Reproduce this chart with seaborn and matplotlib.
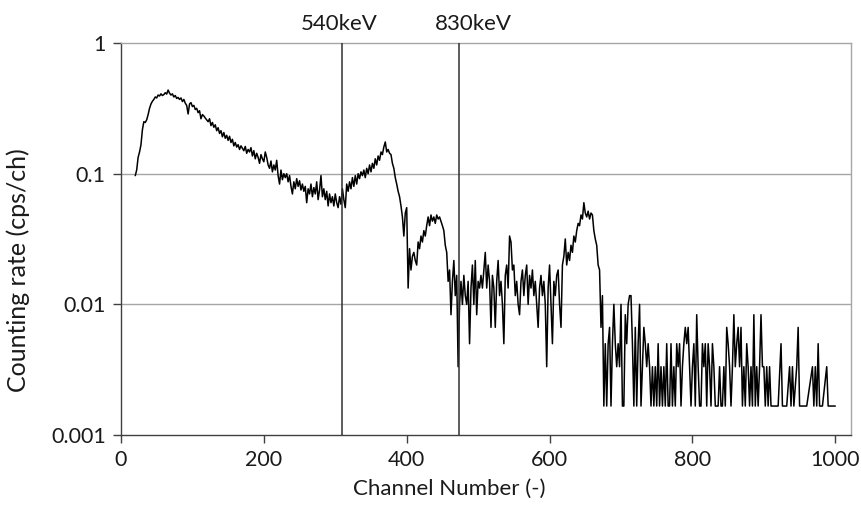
import numpy as np
import pandas as pd
import matplotlib
matplotlib.use("Agg")
import matplotlib.pyplot as plt
import seaborn as sns
from matplotlib.ticker import FixedLocator, FixedFormatter, NullLocator

# ---------------- data ----------------
channels = list(range(20, 1001, 2))

counts = [
    # 20-38
    58, 64, 80, 88, 100, 130, 150, 148, 155, 170,
    # 40-58
    190, 205, 215, 222, 232, 228, 240, 236, 245, 238,
    # 60-78
    242, 250, 244, 262, 248, 240, 245, 232, 238, 226,
    # 80-98
    230, 222, 228, 214, 222, 208, 200, 172, 205, 210,
    # 100-118
    196, 200, 186, 190, 176, 182, 158, 170, 166, 160,
    # 120-138
    155, 150, 158, 140, 148, 136, 142, 128, 135, 122,
    # 140-158
    128, 115, 124, 112, 118, 108, 116, 104, 110, 98,
    # 160-178
    104, 96, 100, 92, 98, 94, 90, 97, 86, 92,
    # 180-198
    88, 95, 82, 90, 78, 86, 80, 72, 84, 78,
    # 200-218
    74, 88, 80, 70, 66, 75, 62, 70, 64, 76,
    # 220-238
    58, 50, 64, 54, 60, 56, 60, 52, 58, 48,
    # 240-258
    42, 52, 46, 55, 48, 53, 45, 50, 44, 48,
    # 260-278
    36, 46, 42, 50, 40, 47, 42, 52, 38, 45,
    # 280-298
    58, 40, 46, 38, 44, 34, 42, 36, 40, 34,
    # 300-318
    42, 36, 33, 40, 35, 46, 38, 33, 50, 44,
    # 320-338
    52, 46, 56, 48, 58, 50, 60, 55, 62, 58,
    # 340-358
    64, 56, 66, 60, 70, 62, 72, 66, 78, 70,
    # 360-378
    82, 76, 88, 84, 96, 105, 88, 92, 86, 84,
    # 380-398
    72, 66, 56, 50, 44, 40, 34, 28, 20, 30,
    # 400-418
    33, 8, 16, 11, 14, 15, 13, 12, 18, 16,
    # 420-438
    20, 18, 22, 20, 24, 28, 24, 29, 26, 28,
    # 440-458
    25, 29, 27, 28, 26, 24, 22, 17, 15, 9,
    # 460-478
    11, 5, 9, 13, 7, 10, 2, 6, 9, 6,
    # 480-498
    10, 7, 6, 9, 3, 8, 12, 6, 13, 5,
    # 500-518
    9, 8, 10, 8, 11, 15, 8, 12, 9, 4,
    # 520-538
    10, 8, 4, 9, 13, 7, 9, 6, 3, 10,
    # 540-558
    12, 8, 20, 18, 11, 12, 7, 9, 6, 5,
    # 560-578
    9, 11, 7, 10, 12, 6, 10, 8, 11, 7,
    # 580-598
    9, 6, 4, 8, 10, 7, 9, 6, 2, 8,
    # 600-618
    12, 6, 3, 9, 7, 10, 11, 6, 4, 12,
    # 620-638
    14, 19, 12, 15, 13, 17, 15, 20, 18, 22,
    # 640-658
    25, 24, 29, 27, 36, 30, 28, 31, 27, 30,
    # 660-678
    29, 22, 19, 17, 12, 11, 4, 7, 1, 3,
    # 680-698
    1, 3, 4, 1, 3, 6, 3, 2, 3, 2,
    # 700-718
    6, 1, 1, 5, 3, 6, 7, 7, 3, 1,
    # 720-738
    4, 1, 3, 6, 1, 2, 4, 3, 2, 3,
    # 740-758
    2, 1, 2, 1, 2, 1, 3, 1, 2, 1,
    # 760-778
    2, 1, 3, 1, 1, 3, 1, 2, 1, 3,
    # 780-798
    2, 3, 1, 2, 3, 4, 3, 4, 2, 1,
    # 800-818
    2, 3, 1, 5, 2, 1, 1, 3, 2, 3,
    # 820-838
    1, 3, 2, 1, 3, 2, 1, 1, 1, 2,
    # 840-858
    1, 1, 2, 1, 4, 3, 2, 1, 2, 5,
    # 860-878
    2, 3, 4, 2, 4, 1, 2, 1, 3, 2,
    # 880-898
    1, 2, 1, 5, 1, 2, 1, 2, 5, 2,
    # 900-918
    2, 1, 2, 1, 2, 1, 0, 1, 0, 0,
    # 920-938
    1, 0, 3, 1, 0, 0, 1, 0, 2, 1,
    # 940-958
    2, 1, 0, 2, 4, 1, 0, 0, 1, 0,
    # 960-978
    1, 0, 0, 0, 2, 1, 2, 1, 3, 1,
    # 980-1000
    0, 1, 0, 0, 2, 1, 0, 1, 0, 1, 1,
]
assert len(counts) == len(channels)

live_time_s = 600  # counts -> cps
marker_channels = [309, 473]
marker_labels = ["540keV", "830keV"]
marker_label_at = [306, 494]

x_ticks = [0, 200, 400, 600, 800, 1000]
y_ticks = [0.001, 0.01, 0.1, 1]
y_tick_labels = ["0.001", "0.01", "0.1", "1"]

rate = [c / live_time_s if c > 0 else np.nan for c in counts]
df = pd.DataFrame({"channel": channels, "rate": rate})

# ---------------- style ----------------
sns.set_style("white")
plt.rcParams["font.family"] = ["Lato", "DejaVu Sans"]
FS = 15.5
TXT = "#1a1a1a"

fig = plt.figure(figsize=(8.61, 5.13), dpi=100)
ax = fig.add_axes([0.1405, 0.152, 0.8479, 0.7641])
ax.set_yscale("log")

sns.lineplot(data=df, x="channel", y="rate", ax=ax, color="black",
             linewidth=1.1, estimator=None, sort=False)

for ch in marker_channels:
    ax.axvline(ch, color="#303030", linewidth=1.1, zorder=3)
for pos, lab in zip(marker_label_at, marker_labels):
    ax.annotate(lab, xy=(pos, 1.0), xycoords=("data", "axes fraction"),
                xytext=(0, 14), textcoords="offset points",
                ha="center", va="center", fontsize=FS + 0.5, color=TXT)

ax.set_xlim(0, 1022)
ax.set_ylim(0.001, 1)

ax.xaxis.set_major_locator(FixedLocator(x_ticks))
ax.yaxis.set_major_locator(FixedLocator(y_ticks))
ax.yaxis.set_major_formatter(FixedFormatter(y_tick_labels))
ax.yaxis.set_minor_locator(NullLocator())
ax.xaxis.set_minor_locator(NullLocator())

ax.grid(False)
for yv in [0.01, 0.1]:
    ax.axhline(yv, color="#a6a6a6", linewidth=1.0, zorder=0)

ax.tick_params(axis="both", which="major", direction="out", length=6,
               width=1.0, color="#404040", labelsize=FS, labelcolor=TXT,
               bottom=True, left=True, pad=5)

for side in ["left", "bottom"]:
    ax.spines[side].set_color("#404040")
    ax.spines[side].set_linewidth(1.0)
for side in ["top", "right"]:
    ax.spines[side].set_visible(True)
    ax.spines[side].set_color("#a6a6a6")
    ax.spines[side].set_linewidth(1.0)

ax.set_xlabel("Channel Number (-)", fontsize=FS + 0.5, color=TXT)
ax.set_ylabel("Counting rate (cps/ch)", fontsize=FS + 2.5, color=TXT)
ax.xaxis.set_label_coords(0.45, -0.112)
ax.yaxis.set_label_coords(-0.125, 0.42)

fig.savefig("out.png", dpi=100)
